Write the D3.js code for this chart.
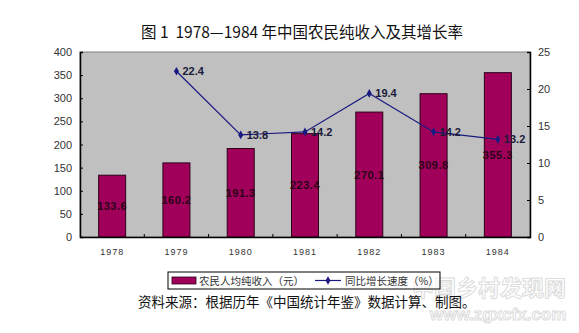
<!DOCTYPE html>
<html>
<head>
<meta charset="utf-8">
<script src="https://cdn.jsdelivr.net/npm/d3@7/dist/d3.min.js"></script>
<style>
  html, body { margin: 0; padding: 0; background: #fff; }
  svg { display: block; }
</style>
</head>
<body>
<svg id="chart" width="579" height="333"></svg>
<script>
// Rural per-capita net income (yuan) and year-on-year growth rate (%), 1978-1984
const years = ["1978", "1979", "1980", "1981", "1982", "1983", "1984"];
const income = [133.6, 160.2, 191.3, 223.4, 270.1, 309.8, 355.3];
const growthYears = ["1979", "1980", "1981", "1982", "1983", "1984"];
const growth = [22.4, 13.8, 14.2, 19.4, 14.2, 13.2];
const leftTicks = [0, 50, 100, 150, 200, 250, 300, 350, 400];
const rightTicks = [0, 5, 10, 15, 20, 25];

const title = "图 1\u00A0\u00A01978—1984 年中国农民纯收入及其增长率";
const legendIncome = "农民人均纯收入（元）";
const legendGrowth = "同比增长速度（%）";
const sourceNote = "资料来源：根据历年《中国统计年鉴》数据计算、制图。";

const svg = d3.select("#chart");
const cjk = "'Noto Sans CJK SC', 'Noto Sans', sans-serif";
const latin = "'Liberation Sans', Arial, sans-serif";

const plot = { left: 80, right: 530, top: 52, bottom: 237 };

const x = d3.scaleBand().domain(years).range([plot.left, plot.right]).paddingInner(0).paddingOuter(0);
const yL = d3.scaleLinear().domain([0, 400]).range([plot.bottom, plot.top]);
const yR = d3.scaleLinear().domain([0, 25]).range([plot.bottom, plot.top]);

const barColor = "#A0005A";
const lineColor = "#1A1A80";

// Title
svg.append("text")
  .attr("x", 302).attr("y", 38)
  .attr("text-anchor", "middle")
  .attr("font-family", cjk)
  .attr("font-size", 15.5)
  .attr("fill", "#111")
  .text(title);

// Plot area background
svg.append("rect")
  .attr("x", plot.left).attr("y", plot.top)
  .attr("width", plot.right - plot.left).attr("height", plot.bottom - plot.top)
  .attr("fill", "#C0C0C0")
  .attr("stroke", "#808080").attr("stroke-width", 1);

// Bars
const bw = x.bandwidth() * 0.42;
svg.append("g").selectAll("rect")
  .data(years.map((y, i) => ({ year: y, v: income[i] })))
  .join("rect")
  .attr("x", d => x(d.year) + (x.bandwidth() - bw) / 2)
  .attr("y", d => yL(d.v))
  .attr("width", bw)
  .attr("height", d => yL(0) - yL(d.v))
  .attr("fill", barColor)
  .attr("stroke", "#2a0018").attr("stroke-width", 1);

// Bar value labels, centred in each bar
svg.append("g").selectAll("text")
  .data(years.map((y, i) => ({ year: y, v: income[i] })))
  .join("text")
  .attr("x", d => x(d.year) + x.bandwidth() / 2)
  .attr("y", d => (yL(d.v) + yL(0)) / 2 + 4)
  .attr("text-anchor", "middle")
  .attr("font-family", latin)
  .attr("font-size", 11)
  .attr("font-weight", "bold")
  .attr("letter-spacing", 0.5)
  .attr("fill", "#2a0018")
  .text(d => d.v.toFixed(1));

// Growth line
const pts = growthYears.map((y, i) => ({ year: y, v: growth[i] }));
const line = d3.line()
  .x(d => x(d.year) + x.bandwidth() / 2)
  .y(d => yR(d.v));
svg.append("path")
  .datum(pts)
  .attr("d", line)
  .attr("fill", "none")
  .attr("stroke", lineColor)
  .attr("stroke-width", 1.2);

// Diamond markers
svg.append("g").selectAll("path")
  .data(pts)
  .join("path")
  .attr("transform", d => `translate(${x(d.year) + x.bandwidth() / 2},${yR(d.v)})`)
  .attr("d", d3.symbol().type(d3.symbolDiamond).size(22))
  .attr("fill", lineColor);

// Growth value labels
svg.append("g").selectAll("text")
  .data(pts)
  .join("text")
  .attr("x", d => x(d.year) + x.bandwidth() / 2 + 6)
  .attr("y", d => yR(d.v) + 4)
  .attr("font-family", latin)
  .attr("font-size", 11)
  .attr("font-weight", "bold")
  .attr("fill", "#1a1a3a")
  .text(d => d.v.toFixed(1));

// Left axis
const axL = svg.append("g")
  .attr("transform", `translate(${plot.left},0)`)
  .call(d3.axisLeft(yL).tickValues(leftTicks).tickSize(-3).tickPadding(8).tickFormat(d3.format("d")));
axL.select(".domain").attr("stroke", "#000").attr("stroke-width", 1.5);
axL.selectAll(".tick line").attr("stroke", "#000");
axL.selectAll("text").attr("font-family", latin).attr("font-size", 11).attr("fill", "#333");

// Right axis
const axR = svg.append("g")
  .attr("transform", `translate(${plot.right},0)`)
  .call(d3.axisRight(yR).tickValues(rightTicks).tickSize(-3).tickPadding(8).tickFormat(d3.format("d")));
axR.select(".domain").attr("stroke", "#000").attr("stroke-width", 1.5);
axR.selectAll(".tick line").attr("stroke", "#000");
axR.selectAll("text").attr("font-family", latin).attr("font-size", 11).attr("fill", "#333");

// Bottom axis: category labels, tick marks at category boundaries
const axB = svg.append("g")
  .attr("transform", `translate(0,${plot.bottom})`)
  .call(d3.axisBottom(x).tickSize(0).tickPadding(12));
axB.select(".domain").attr("stroke", "#000").attr("stroke-width", 1.5);
axB.selectAll("text").attr("font-family", latin).attr("font-size", 9)
  .attr("letter-spacing", 1).attr("fill", "#333");
svg.append("g").selectAll("line")
  .data(years.slice(1))
  .join("line")
  .attr("x1", d => x(d)).attr("x2", d => x(d))
  .attr("y1", plot.bottom).attr("y2", plot.bottom - 3)
  .attr("stroke", "#000");

// Site mark (drawn beneath the legend)
svg.append("text")
  .attr("x", 412).attr("y", 296)
  .attr("font-family", cjk).attr("font-size", 22).attr("font-weight", "bold")
  .attr("fill", "none").attr("stroke", "#dcdcdc").attr("stroke-width", 1)
  .text("中国乡村发现网");
svg.append("text")
  .attr("x", 430).attr("y", 320)
  .attr("font-family", latin).attr("font-size", 17).attr("font-weight", "bold")
  .attr("fill", "none").attr("stroke", "#dcdcdc").attr("stroke-width", 1)
  .text("www.zgxcfx.com");

// Legend
const lg = svg.append("g").attr("transform", "translate(168,272)");
lg.append("rect").attr("width", 272).attr("height", 17)
  .attr("fill", "#fff").attr("fill-opacity", 0.6).attr("stroke", "#000").attr("stroke-width", 1);
lg.append("rect").attr("x", 4).attr("y", 5).attr("width", 24).attr("height", 7)
  .attr("fill", barColor).attr("stroke", "#2a0018").attr("stroke-width", 0.8);
lg.append("text").attr("x", 31).attr("y", 12.5)
  .attr("font-family", cjk).attr("font-size", 10.5).attr("fill", "#333")
  .text(legendIncome);
lg.append("line").attr("x1", 147).attr("x2", 173).attr("y1", 8.5).attr("y2", 8.5)
  .attr("stroke", lineColor).attr("stroke-width", 1.2);
lg.append("path").attr("transform", "translate(160,8.5)")
  .attr("d", d3.symbol().type(d3.symbolDiamond).size(20)).attr("fill", lineColor);
lg.append("text").attr("x", 177).attr("y", 12.5)
  .attr("font-family", cjk).attr("font-size", 10.5).attr("fill", "#333")
  .text(legendGrowth);

// Source note
svg.append("text")
  .attr("x", 138).attr("y", 307)
  .attr("font-family", cjk)
  .attr("font-size", 13.5)
  .attr("fill", "#111")
  .text(sourceNote);
</script>
</body>
</html>
